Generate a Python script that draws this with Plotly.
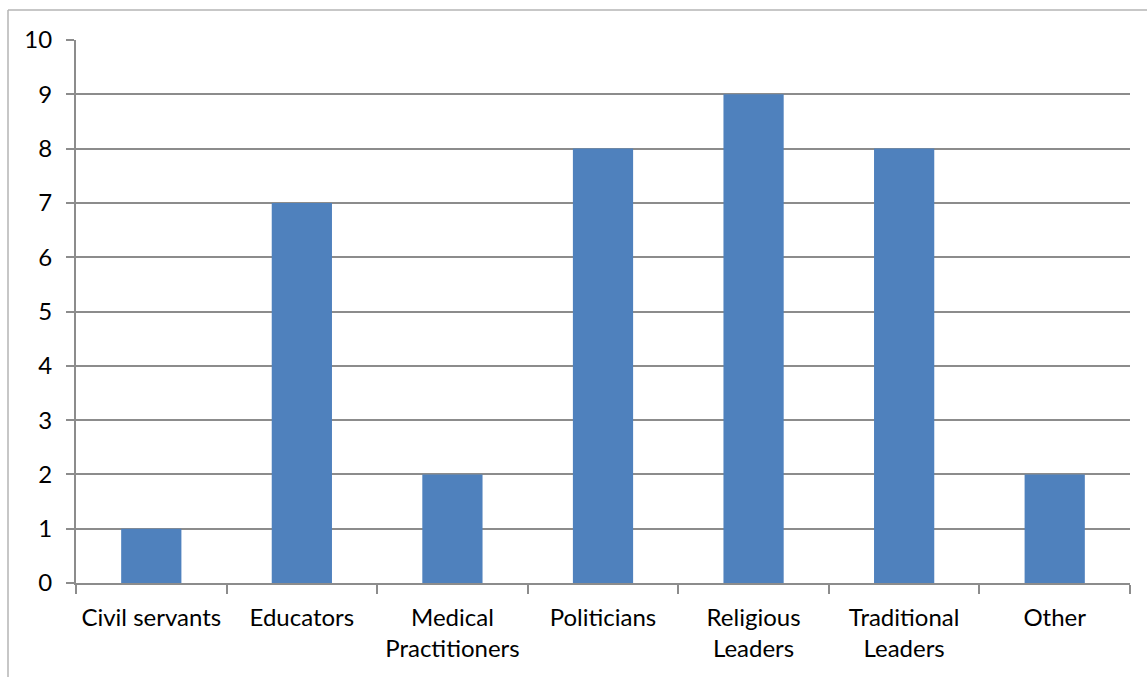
import plotly.graph_objects as go

categories = ["Civil servants", "Educators", "Medical<br>Practitioners", "Politicians",
              "Religious<br>Leaders", "Traditional<br>Leaders", "Other"]
counts = [1, 7, 2, 8, 9, 8, 2]
y_ticks = list(range(0, 11))

W, H = 1147, 677
L, R, T, B = 76, 17, 40, 94
pw, ph = W - L - R, H - T - B

def px_to_paper_x(px):
    return (px - L) / pw

def px_to_paper_y(py):
    return (H - B - py) / ph

fig = go.Figure(go.Bar(
    x=categories, y=counts,
    marker=dict(color="#4F81BD", line=dict(width=0)),
))

axis_grey = "#8c8c8c"
font_family = "Lato, 'Open Sans', sans-serif"
label_font = dict(family=font_family, size=24, color="black")

fig.update_layout(
    width=W, height=H,
    margin=dict(l=L, r=R, t=T, b=B),
    paper_bgcolor="white", plot_bgcolor="white",
    bargap=0.6,
    showlegend=False,
    font=label_font,
    xaxis=dict(
        type="category",
        showline=True, linecolor=axis_grey, linewidth=2,
        ticks="outside", tickson="boundaries", ticklen=9, tickcolor=axis_grey, tickwidth=2,
        showgrid=False,
        ticklabelstandoff=12,
        tickfont=label_font,
    ),
    yaxis=dict(
        range=[0, 10], tickvals=y_ticks,
        showline=True, linecolor=axis_grey, linewidth=2,
        ticks="outside", ticklen=8, tickcolor=axis_grey, tickwidth=2,
        showgrid=True, gridcolor=axis_grey, gridwidth=2,
        zeroline=False,
        ticklabelstandoff=9,
        tickfont=label_font,
    ),
    shapes=[
        # chart frame (top and left edges)
        dict(type="line", xref="paper", yref="paper",
             x0=px_to_paper_x(8), x1=px_to_paper_x(W + 5),
             y0=px_to_paper_y(10), y1=px_to_paper_y(10),
             line=dict(color="#b4b4b4", width=1.5)),
        dict(type="line", xref="paper", yref="paper",
             x0=px_to_paper_x(8), x1=px_to_paper_x(8),
             y0=px_to_paper_y(10), y1=px_to_paper_y(H + 5),
             line=dict(color="#b4b4b4", width=1.5)),
    ],
)

fig.write_html("out.html")
